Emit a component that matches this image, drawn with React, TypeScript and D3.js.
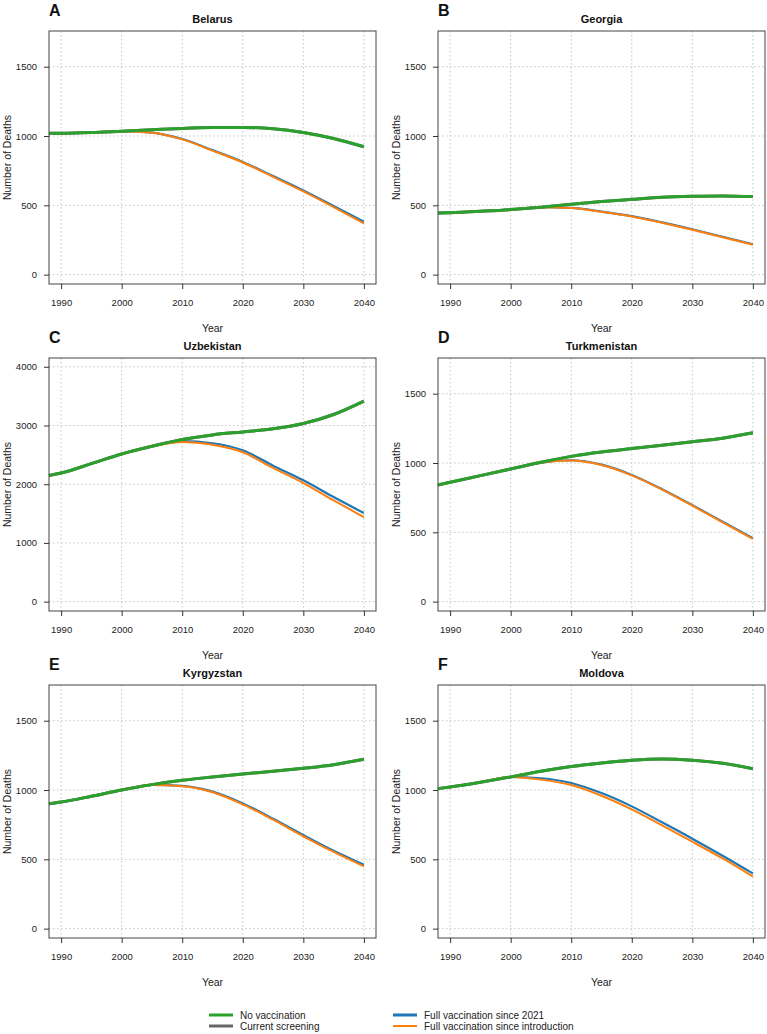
import React, { useEffect, useRef } from "react";
import * as d3 from "d3";

// years
const years = [1988, 1990, 1995, 2000, 2005, 2010, 2015, 2020, 2025, 2030, 2035, 2040];
const xTicks = [1990, 2000, 2010, 2020, 2030, 2040];
const yTicksSmall = [0, 500, 1000, 1500];
const yTicksLarge = [0, 1000, 2000, 3000, 4000];

const belarusNoVacc = [1020, 1020, 1025, 1035, 1045, 1055, 1061, 1062, 1053, 1026, 982, 922];
const belarusFull2021 = [1020, 1020, 1025, 1035, 1025, 978, 898, 813, 711, 607, 495, 381];
const belarusFullIntro = [1020, 1020, 1025, 1035, 1024, 976, 895, 809, 706, 600, 487, 370];

const georgiaNoVacc = [444, 447, 457, 469, 486, 507, 527, 543, 558, 565, 568, 563];
const georgiaFull2021 = [444, 447, 457, 469, 486, 481, 455, 422, 377, 327, 273, 219];
const georgiaFullIntro = [444, 447, 457, 469, 486, 480, 453, 420, 374, 324, 270, 215];

const uzbekNoVacc = [2148, 2190, 2350, 2515, 2646, 2760, 2840, 2891, 2943, 3034, 3187, 3415];
const uzbekFull2021 = [2148, 2190, 2350, 2515, 2646, 2733, 2698, 2578, 2316, 2066, 1781, 1508];
const uzbekFullIntro = [2148, 2190, 2350, 2515, 2646, 2720, 2672, 2544, 2277, 2020, 1725, 1440];

const turkmenNoVacc = [842, 861, 909, 957, 1005, 1048, 1080, 1104, 1128, 1153, 1179, 1218];
const turkmenFull2021 = [842, 861, 909, 957, 1003, 1020, 988, 914, 811, 696, 577, 458];
const turkmenFullIntro = [842, 861, 909, 957, 1003, 1019, 986, 911, 808, 692, 572, 453];

const kyrgyzNoVacc = [901, 913, 955, 1000, 1039, 1070, 1094, 1116, 1135, 1157, 1183, 1222];
const kyrgyzFull2021 = [901, 913, 955, 1000, 1037, 1030, 988, 903, 793, 675, 562, 461];
const kyrgyzFullIntro = [901, 913, 955, 1000, 1036, 1027, 984, 897, 786, 666, 553, 449];

const moldovaNoVacc = [1010, 1022, 1056, 1094, 1135, 1169, 1195, 1215, 1224, 1215, 1193, 1154];
const moldovaFull2021 = [1010, 1022, 1056, 1094, 1085, 1051, 978, 882, 767, 649, 526, 398];
const moldovaFullIntro = [1010, 1022, 1056, 1094, 1075, 1036, 959, 860, 745, 627, 506, 376];

const legendLabels = [
  "No vaccination",
  "Current screening",
  "Full vaccination since 2021",
  "Full vaccination since introduction"
];

const GREEN = "#2ca02c";
const GRAY = "#666666";
const BLUE = "#1f77b4";
const ORANGE = "#ff7f0e";
const FONT = "'Liberation Sans', Arial, Helvetica, sans-serif";

const panels = [
  { letter: "A", title: "Belarus", none: belarusNoVacc, v2021: belarusFull2021, intro: belarusFullIntro, yMax: 1690, yTicks: yTicksSmall },
  { letter: "B", title: "Georgia", none: georgiaNoVacc, v2021: georgiaFull2021, intro: georgiaFullIntro, yMax: 1690, yTicks: yTicksSmall },
  { letter: "C", title: "Uzbekistan", none: uzbekNoVacc, v2021: uzbekFull2021, intro: uzbekFullIntro, yMax: 3990, yTicks: yTicksLarge },
  { letter: "D", title: "Turkmenistan", none: turkmenNoVacc, v2021: turkmenFull2021, intro: turkmenFullIntro, yMax: 1690, yTicks: yTicksSmall },
  { letter: "E", title: "Kyrgyzstan", none: kyrgyzNoVacc, v2021: kyrgyzFull2021, intro: kyrgyzFullIntro, yMax: 1690, yTicks: yTicksSmall },
  { letter: "F", title: "Moldova", none: moldovaNoVacc, v2021: moldovaFull2021, intro: moldovaFullIntro, yMax: 1690, yTicks: yTicksSmall }
];

const W = 767;
const H = 1034;
const colLeft = [49, 438];
const rowTop = [31, 358, 685];
const boxW = 327;
const boxH = 253;

export default function App() {
  const ref = useRef<SVGSVGElement>(null);

  useEffect(() => {
    const svg = d3.select(ref.current);
    svg.selectAll("*").remove();
    svg.attr("font-family", FONT);

    panels.forEach((p, i) => {
      const left = colLeft[i % 2];
      const top = rowTop[Math.floor(i / 2)];
      const g = svg.append("g").attr("transform", `translate(${left},${top})`);

      // R-style 4% padding on both axes
      const x = d3.scaleLinear().domain([1988, 2042]).range([0, boxW]);
      const pad = p.yMax * 0.04;
      const y = d3.scaleLinear().domain([-pad, p.yMax + pad]).range([boxH, 0]);

      // grid
      g.selectAll(".vgrid")
        .data(xTicks)
        .enter()
        .append("line")
        .attr("x1", d => x(d))
        .attr("x2", d => x(d))
        .attr("y1", 0)
        .attr("y2", boxH)
        .attr("stroke", "#c4c4c4")
        .attr("stroke-dasharray", "1.5,2.5");
      g.selectAll(".hgrid")
        .data(p.yTicks)
        .enter()
        .append("line")
        .attr("x1", 0)
        .attr("x2", boxW)
        .attr("y1", d => y(d))
        .attr("y2", d => y(d))
        .attr("stroke", "#c4c4c4")
        .attr("stroke-dasharray", "1.5,2.5");

      const line = d3
        .line<number>()
        .x((d, j) => x(years[j]))
        .y(d => y(d))
        .curve(d3.curveMonotoneX);

      // green goes last so it covers the shared stretch before the curves split
      const series = [
        { values: p.none, color: GRAY, width: 3 }, // current screening, same as no vaccination
        { values: p.v2021, color: BLUE, width: 2.2 },
        { values: p.intro, color: ORANGE, width: 2 },
        { values: p.none, color: GREEN, width: 3 }
      ];
      series.forEach(s => {
        g.append("path")
          .datum(s.values)
          .attr("d", line)
          .attr("fill", "none")
          .attr("stroke", s.color)
          .attr("stroke-width", s.width)
          .attr("stroke-linejoin", "round");
      });

      g.append("rect")
        .attr("width", boxW)
        .attr("height", boxH)
        .attr("fill", "none")
        .attr("stroke", "#444")
        .attr("stroke-width", 1);

      const xAxis = g
        .append("g")
        .attr("transform", `translate(0,${boxH})`)
        .call(d3.axisBottom(x).tickValues(xTicks).tickFormat(d3.format("d")).tickSize(5).tickPadding(10));
      xAxis.select(".domain").remove();

      const yAxis = g
        .append("g")
        .call(d3.axisLeft(y).tickValues(p.yTicks).tickFormat(d3.format("d")).tickSize(5).tickPadding(7));
      yAxis.select(".domain").remove();

      [xAxis, yAxis].forEach(a => {
        a.selectAll("line").attr("stroke", "#333");
        a.selectAll("text")
          .attr("font-family", FONT)
          .attr("font-size", 9.5)
          .attr("fill", "#222");
      });

      g.append("text")
        .attr("x", boxW / 2)
        .attr("y", boxH + 48)
        .attr("text-anchor", "middle")
        .attr("font-size", 10.5)
        .attr("fill", "#222")
        .text("Year");

      g.append("text")
        .attr("transform", `translate(-42,${boxH / 2}) rotate(-90)`)
        .attr("text-anchor", "middle")
        .attr("dy", "0.35em")
        .attr("font-size", 10.5)
        .attr("fill", "#222")
        .text("Number of Deaths");

      g.append("text")
        .attr("x", boxW / 2)
        .attr("y", -8)
        .attr("text-anchor", "middle")
        .attr("font-size", 11)
        .attr("font-weight", "bold")
        .attr("fill", "#111")
        .text(p.title);

      g.append("text")
        .attr("x", 0)
        .attr("y", -15)
        .attr("font-size", 16)
        .attr("font-weight", "bold")
        .attr("fill", "#111")
        .text(p.letter);
    });

    // legend
    const legendColors = [GREEN, GRAY, BLUE, ORANGE];
    const legendWidths = [3, 3, 3, 2];
    const legX = [209, 209, 393, 393];
    const legY = [1015, 1026, 1015, 1026];
    const leg = svg.append("g");
    legendLabels.forEach((label, i) => {
      leg.append("line")
        .attr("x1", legX[i])
        .attr("x2", legX[i] + 24)
        .attr("y1", legY[i])
        .attr("y2", legY[i])
        .attr("stroke", legendColors[i])
        .attr("stroke-width", legendWidths[i]);
      leg.append("text")
        .attr("x", legX[i] + 31)
        .attr("y", legY[i])
        .attr("dy", "0.35em")
        .attr("font-size", 10)
        .attr("fill", "#222")
        .text(label);
    });
  }, []);

  return (
    <svg
      ref={ref}
      width={W}
      height={H}
      style={{ position: "absolute", left: 0, top: 0, background: "#fff" }}
    />
  );
}
